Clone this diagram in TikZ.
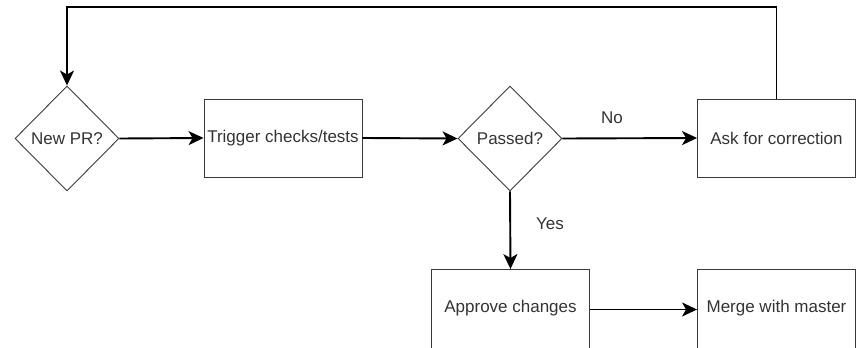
\documentclass[tikz,border=0pt]{standalone}
\usepackage{fontspec}
\setmainfont{Liberation Sans}
\usetikzlibrary{shapes.geometric,arrows.meta}
\definecolor{txt}{HTML}{333333}
\definecolor{bord}{HTML}{3A3A3A}
\begin{document}
\begin{tikzpicture}[x=1pt,y=-1pt,
  box/.style={draw=bord,line width=0.9pt,minimum width=158pt,minimum height=78pt,inner sep=0pt,font=\fontsize{17}{20}\selectfont,text=txt},
  lowbox/.style={box,minimum height=80pt},
  decision/.style={diamond,draw=bord,line width=0.9pt,minimum width=104pt,minimum height=105pt,inner sep=0pt,font=\fontsize{17}{20}\selectfont,text=txt},
  conn/.style={draw=black,line width=1.9pt,-{Stealth[length=15pt,width=14pt,inset=4pt]}},
  lbl/.style={font=\fontsize{17}{20}\selectfont,text=txt,inner sep=0pt}]
\useasboundingbox (0,0) rectangle (857,348);
\node[decision] (newpr) at (67,138.5) {New PR?};
\node[box] (trigger) at (283,138) {Trigger checks/tests};
\node[decision] (passed) at (510,138.5) {Passed?};
\node[box] (ask) at (776.5,138) {Ask for correction};
\node[lowbox] (approve) at (510.5,309.5) {};
\node[lbl] (approvetxt) at (510.5,308.5) {Approve changes};
\node[lowbox] (merge) at (776.5,309.5) {};
\node[lbl] (mergetxt) at (776.5,308.5) {Merge with master};
\coordinate (tr) at (776.5,7);
\coordinate (tl) at (67,7);
\draw[conn] (newpr.east) -- (trigger.west);
\draw[conn] (trigger.east) -- (passed.west);
\draw[conn] (passed.east) -- (ask.west);
\node[lbl] (nolbl) at (612,118) {No};
\draw[conn] (passed.south) -- (approve.north);
\node[lbl] (yeslbl) at (550,224) {Yes};
\draw[conn] (approve.east) -- (merge.west);
\draw[conn] (ask.north) -- (tr) -- (tl) -- (newpr.north);
\end{tikzpicture}
\end{document}
